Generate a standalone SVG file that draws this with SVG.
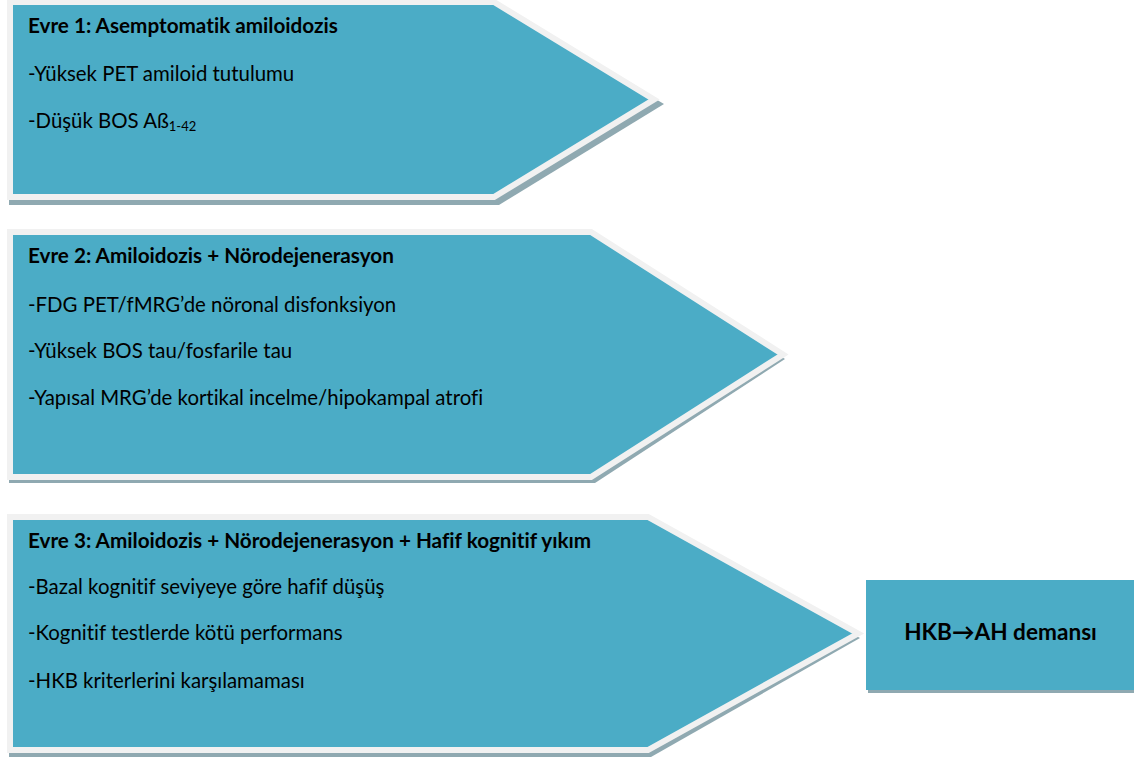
<svg xmlns="http://www.w3.org/2000/svg" width="1134" height="758" viewBox="0 0 1134 758">
<style>
.shadow{fill:#8fa9b1}
.frame{fill:#4bacc6;stroke:#f1f1f1;stroke-width:6;stroke-linejoin:miter}
.fill{fill:#4bacc6}
text{font-family:Lato,"Liberation Sans",sans-serif;font-size:20.4px;fill:#000;font-variant-ligatures:none;font-feature-settings:"liga" 0,"clig" 0}
.b{font-weight:bold;font-size:20.7px}
.big{font-size:22.6px}
</style>
<rect width="1134" height="758" fill="#fff"/>
<g id="evre1">
<polygon class="shadow" points="9,6 498,6 664,104 499,205 9,205"/>
<polygon class="frame" points="10,2 494,2 654,99.5 494,197 10,197"/>
<text class="b" x="28" y="33">Evre 1: Asemptomatik amiloidozis</text>
<text x="28" y="81">-Yüksek PET amiloid tutulumu</text>
<text x="28" y="128">-Düşük BOS Aß<tspan font-size="13" dy="3">1-42</tspan></text>
</g>
<g id="evre2">
<polygon class="shadow" points="9,236 592,236 785,359 595,483 9,483"/>
<polygon class="frame" points="10,232 591,232 783,354.5 591,477 10,477"/>
<text class="b" x="28" y="263">Evre 2: Amiloidozis + Nörodejenerasyon</text>
<text x="28" y="312">-FDG PET/fMRG’de nöronal disfonksiyon</text>
<text x="28" y="358">-Yüksek BOS tau/fosfarile tau</text>
<text x="28" y="405">-Yapısal MRG’de kortikal incelme/hipokampal atrofi</text>
</g>
<g id="evre3">
<polygon class="shadow" points="9,520 650,520 860,638 651,757 9,757"/>
<polygon class="frame" points="10,517 648,517 858,633.5 648,750 10,750"/>
<text class="b" x="28" y="548">Evre 3: Amiloidozis + Nörodejenerasyon + Hafif kognitif yıkım</text>
<text x="28" y="594">-Bazal kognitif seviyeye göre hafif düşüş</text>
<text x="28" y="640">-Kognitif testlerde kötü performans</text>
<text x="28" y="688">-HKB kriterlerini karşılamaması</text>
</g>
<g id="demans">
<rect class="shadow" x="868" y="583" width="266" height="110"/>
<rect class="fill" x="866" y="580" width="268" height="110"/>
<text class="b big" x="1000.5" y="640" text-anchor="middle">HKB→AH demansı</text>
</g>
<g id="connectors"/>
</svg>
